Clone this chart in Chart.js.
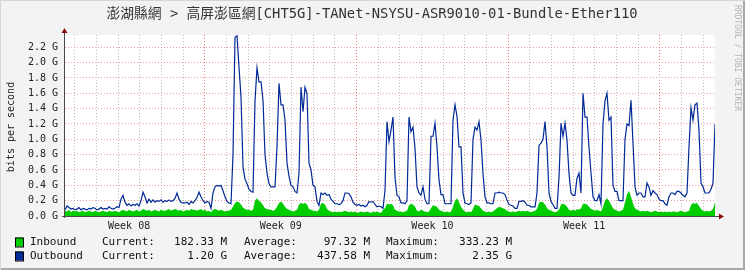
<!DOCTYPE html>
<html>
<head>
<meta charset="utf-8">
<script src="https://cdn.jsdelivr.net/npm/chart.js@4/dist/chart.umd.min.js"></script>
<style>
  html, body { margin: 0; padding: 0; background: #f3f3f3; }
  canvas { display: block; }
</style>
</head>
<body>
<canvas id="traffic" width="745" height="270" style="width:745px;height:270px"></canvas>
<script>
// Chart data (values in Gbit/s, one sample every STEP_H hours)
const titleText = '澎湖縣網 > 高屏澎區網[CHT5G]-TANet-NSYSU-ASR9010-01-Bundle-Ether110';
const axisTitle = 'bits per second';
const weekLabels = ['Week 08', 'Week 09', 'Week 10', 'Week 11'];
const SPAN_H = 720;
const STEP_H = 720 / 325;
const firstMidnightH = 11;
const firstWeekH = 155;
const yMax = 2.36;

const inbound = [
  0.07, 0.06, 0.08, 0.05, 0.07,  0.06, 0.07, 0.05, 0.06, 0.07,
  0.05, 0.06, 0.07, 0.06, 0.05,  0.07, 0.06, 0.05, 0.06, 0.07,
  0.06, 0.05, 0.07, 0.06, 0.06,  0.07, 0.06, 0.05, 0.07, 0.08,
  0.07, 0.06, 0.08, 0.07, 0.06,  0.07, 0.08, 0.06, 0.07, 0.09,
  0.08, 0.07, 0.08, 0.06, 0.07,  0.08, 0.07, 0.06, 0.08, 0.07,
  0.07, 0.08, 0.09, 0.07, 0.08,  0.09, 0.08, 0.07, 0.08, 0.06,
  0.07, 0.08, 0.07, 0.09, 0.08,  0.08, 0.07, 0.08, 0.09, 0.07,
  0.08, 0.06, 0.07, 0.05, 0.08,  0.09, 0.08, 0.07, 0.08, 0.07,
  0.06, 0.07, 0.07, 0.08, 0.12,  0.17, 0.19, 0.18, 0.15, 0.11,
  0.09, 0.08, 0.08, 0.07, 0.08,  0.20, 0.23, 0.20, 0.18, 0.14,
  0.10, 0.09, 0.08, 0.08, 0.07,  0.08, 0.12, 0.17, 0.19, 0.16,
  0.12, 0.09, 0.08, 0.07, 0.06,  0.07, 0.08, 0.15, 0.17, 0.16,
  0.17, 0.15, 0.09, 0.08, 0.07,  0.07, 0.06, 0.08, 0.16, 0.17,
  0.15, 0.09, 0.07, 0.06, 0.05,  0.06, 0.05, 0.06, 0.05, 0.06,
  0.07, 0.06, 0.05, 0.06, 0.05,  0.06, 0.04, 0.05, 0.06, 0.05,
  0.05, 0.06, 0.05, 0.04, 0.06,  0.05, 0.06, 0.05, 0.04, 0.08,
  0.10, 0.16, 0.15, 0.16, 0.14,  0.08, 0.07, 0.06, 0.06, 0.05,
  0.06, 0.07, 0.14, 0.16, 0.15,  0.12, 0.07, 0.06, 0.08, 0.07,
  0.06, 0.05, 0.06, 0.10, 0.14,  0.13, 0.12, 0.08, 0.07, 0.06,
  0.05, 0.06, 0.05, 0.06, 0.12,  0.20, 0.23, 0.18, 0.12, 0.08,
  0.06, 0.05, 0.06, 0.05, 0.09,  0.15, 0.14, 0.13, 0.10, 0.07,
  0.06, 0.05, 0.06, 0.05, 0.06,  0.08, 0.10, 0.12, 0.11, 0.10,
  0.09, 0.07, 0.06, 0.05, 0.06,  0.05, 0.06, 0.07, 0.06, 0.07,
  0.06, 0.07, 0.06, 0.05, 0.06,  0.07, 0.09, 0.17, 0.19, 0.18,
  0.15, 0.10, 0.08, 0.07, 0.06,  0.05, 0.06, 0.08, 0.15, 0.16,
  0.15, 0.12, 0.08, 0.07, 0.08,  0.07, 0.09, 0.08, 0.10, 0.16,
  0.16, 0.15, 0.12, 0.09, 0.08,  0.07, 0.08, 0.07, 0.06, 0.12,
  0.20, 0.23, 0.20, 0.15, 0.10,  0.08, 0.07, 0.06, 0.07, 0.08,
  0.18, 0.28, 0.33, 0.25, 0.16,  0.10, 0.08, 0.07, 0.06, 0.07,
  0.06, 0.07, 0.06, 0.05, 0.06,  0.07, 0.06, 0.05, 0.06, 0.05,
  0.06, 0.05, 0.06, 0.05, 0.06,  0.06, 0.05, 0.06, 0.07, 0.06,
  0.05, 0.06, 0.07, 0.14, 0.17,  0.16, 0.17, 0.13, 0.09, 0.07,
  0.06, 0.07, 0.06, 0.07, 0.09,  0.18
];

const outbound = [
  0.08, 0.13, 0.11, 0.09, 0.10,  0.08, 0.09, 0.11, 0.08, 0.10,
  0.09, 0.08, 0.10, 0.09, 0.11,  0.10, 0.08, 0.09, 0.11, 0.09,
  0.10, 0.09, 0.12, 0.10, 0.09,  0.10, 0.12, 0.11, 0.22, 0.27,
  0.18, 0.14, 0.16, 0.13, 0.15,  0.14, 0.16, 0.13, 0.20, 0.31,
  0.25, 0.17, 0.22, 0.18, 0.21,  0.18, 0.20, 0.19, 0.21, 0.18,
  0.20, 0.19, 0.21, 0.19, 0.20,  0.23, 0.30, 0.22, 0.18, 0.17,
  0.17, 0.18, 0.15, 0.19, 0.17,  0.20, 0.24, 0.31, 0.25, 0.20,
  0.17, 0.19, 0.18, 0.10, 0.30,  0.38, 0.40, 0.39, 0.40, 0.33,
  0.25, 0.19, 0.17, 0.16, 0.80,  2.33, 2.35, 1.94, 1.55, 0.64,
  0.48, 0.42, 0.35, 0.32, 0.31,  1.50, 1.93, 1.75, 1.75, 1.51,
  0.80, 0.56, 0.42, 0.38, 0.38,  0.38, 0.90, 1.73, 1.45, 1.45,
  1.25, 0.69, 0.52, 0.40, 0.38,  0.32, 0.30, 0.55, 1.68, 1.36,
  1.68, 1.60, 0.69, 0.60, 0.40,  0.38, 0.19, 0.14, 0.30, 0.28,
  0.30, 0.27, 0.28, 0.22, 0.19,  0.16, 0.16, 0.15, 0.16, 0.20,
  0.30, 0.30, 0.29, 0.25, 0.18,  0.15, 0.14, 0.15, 0.13, 0.14,
  0.12, 0.14, 0.19, 0.18, 0.19,  0.15, 0.12, 0.13, 0.12, 0.10,
  0.33, 1.23, 0.97, 1.12, 1.29,  0.50, 0.27, 0.25, 0.17, 0.17,
  0.16, 0.20, 1.29, 1.10, 1.16,  0.88, 0.38, 0.30, 0.27, 0.38,
  0.22, 0.16, 0.16, 1.04, 1.04,  1.21, 0.90, 0.47, 0.28, 0.28,
  0.16, 0.16, 0.16, 0.16, 1.25,  1.45, 1.30, 0.90, 0.90, 0.30,
  0.17, 0.16, 0.15, 0.17, 1.00,  1.16, 1.12, 1.23, 0.99, 0.55,
  0.25, 0.17, 0.17, 0.16, 0.16,  0.30, 0.30, 0.31, 0.30, 0.30,
  0.28, 0.21, 0.15, 0.14, 0.13,  0.10, 0.10, 0.19, 0.19, 0.20,
  0.18, 0.14, 0.14, 0.12, 0.12,  0.12, 0.30, 0.92, 0.95, 1.00,
  1.23, 0.90, 0.30, 0.19, 0.15,  0.10, 0.10, 0.50, 1.21, 1.04,
  1.21, 0.99, 0.55, 0.30, 0.27,  0.27, 0.49, 0.56, 0.30, 1.60,
  1.29, 1.29, 0.90, 0.56, 0.25,  0.20, 0.20, 0.28, 0.16, 1.20,
  1.50, 1.60, 1.25, 1.29, 0.40,  0.32, 0.32, 0.20, 0.20, 0.20,
  1.00, 1.20, 1.18, 1.51, 0.95,  0.38, 0.27, 0.30, 0.30, 0.25,
  0.25, 0.43, 0.38, 0.27, 0.33,  0.30, 0.28, 0.22, 0.20, 0.20,
  0.16, 0.14, 0.25, 0.30, 0.30,  0.28, 0.32, 0.32, 0.30, 0.27,
  0.25, 0.30, 0.90, 1.41, 1.25,  1.45, 1.47, 1.12, 0.43, 0.38,
  0.30, 0.30, 0.30, 0.35, 0.43,  1.20
];

const seriesNames = ['Inbound', 'Outbound'];
const seriesColors = ['#00cc00', '#002a97'];
const statLabels = ['Current:', 'Average:', 'Maximum:'];
const inboundStats = ['182.33 M', '97.32 M', '333.23 M'];
const outboundStats = ['1.20 G', '437.58 M', '2.35 G'];

// tick positions
const dayTicks = [];
for (let h = firstMidnightH; h < SPAN_H; h += 24) dayTicks.push(h);
const yTicks = [];
for (let i = 0; i <= 23; i++) yTicks.push(i / 10);

const mono = '"DejaVu Sans Mono", "Liberation Mono", monospace';

const toPoints = arr => arr.map((v, i) => ({ x: i * STEP_H, y: v }));

// backgrounds, axes, texts
const rrdDecor = {
  id: 'rrdDecor',
  beforeDraw(chart) {
    const { ctx, chartArea: a } = chart;
    ctx.save();
    ctx.fillStyle = '#f3f3f3';
    ctx.fillRect(0, 0, chart.width, chart.height);
    ctx.fillStyle = '#ffffff';
    ctx.fillRect(a.left, a.top, a.right - a.left, a.bottom - a.top);
    ctx.restore();
  },
  afterDatasetsDraw(chart) {
    const { ctx, chartArea: a } = chart;
    ctx.save();
    ctx.strokeStyle = '#4a4a4a';
    ctx.lineWidth = 1;
    ctx.beginPath();
    ctx.moveTo(a.left - 0.5, a.bottom + 2);
    ctx.lineTo(a.left - 0.5, a.top - 4);
    ctx.moveTo(a.left - 3, a.bottom + 0.5);
    ctx.lineTo(a.right + 5, a.bottom + 0.5);
    ctx.stroke();
    // arrows
    ctx.fillStyle = '#8a1010';
    ctx.beginPath();
    ctx.moveTo(a.left - 3.5, a.top - 2);
    ctx.lineTo(a.left + 2.5, a.top - 2);
    ctx.lineTo(a.left - 0.5, a.top - 7);
    ctx.closePath();
    ctx.fill();
    ctx.beginPath();
    ctx.moveTo(a.right + 4, a.bottom - 2.5);
    ctx.lineTo(a.right + 4, a.bottom + 3.5);
    ctx.lineTo(a.right + 9, a.bottom + 0.5);
    ctx.closePath();
    ctx.fill();
    ctx.restore();
  },
  afterDraw(chart) {
    const { ctx } = chart;
    const xs = chart.scales.x;
    ctx.save();
    // title
    ctx.fillStyle = '#333';
    ctx.font = '13.8px ' + mono + ', "Noto Sans CJK TC"';
    ctx.textAlign = 'center';
    ctx.textBaseline = 'middle';
    ctx.fillText(titleText, 372, 14);

    // week labels
    ctx.fillStyle = '#222';
    ctx.font = '10px ' + mono;
    weekLabels.forEach((w, k) => {
      const mid = firstWeekH - 84 + 168 * k;
      ctx.fillText(w, xs.getPixelForValue(mid), 226);
    });

    // y axis title
    ctx.save();
    ctx.translate(11, 127);
    ctx.rotate(-Math.PI / 2);
    ctx.fillText(axisTitle, 0, 0);
    ctx.restore();

    // watermark
    ctx.save();
    ctx.fillStyle = '#b4b4b4';
    ctx.font = '8px ' + mono;
    ctx.translate(737, 5);
    ctx.rotate(Math.PI / 2);
    ctx.textAlign = 'left';
    ctx.fillText('RRDTOOL / TOBI OETIKER', 0, 0);
    ctx.restore();

    // legend
    ctx.font = '11px ' + mono;
    const stats = [inboundStats, outboundStats];
    seriesNames.forEach((name, r) => {
      const y = 242 + r * 14;
      ctx.fillStyle = seriesColors[r];
      ctx.fillRect(15, y - 4.5, 8, 9);
      ctx.strokeStyle = '#000';
      ctx.lineWidth = 1;
      ctx.strokeRect(15.5, y - 4, 8, 9);
      ctx.fillStyle = '#111';
      ctx.textAlign = 'left';
      ctx.fillText(name, 30, y);
      const labelX = [102, 244, 386];
      const valueX = [227, 370, 512];
      statLabels.forEach((lab, j) => {
        ctx.textAlign = 'left';
        ctx.fillText(lab, labelX[j], y);
        ctx.textAlign = 'right';
        ctx.fillText(stats[r][j], valueX[j], y);
      });
    });

    // frame
    ctx.strokeStyle = '#a8a8a8';
    ctx.lineWidth = 2;
    ctx.beginPath();
    ctx.moveTo(0, chart.height - 1);
    ctx.lineTo(chart.width - 1, chart.height - 1);
    ctx.lineTo(chart.width - 1, 0);
    ctx.stroke();
    ctx.strokeStyle = '#d6d6d6';
    ctx.lineWidth = 1;
    ctx.beginPath();
    ctx.moveTo(0.5, chart.height);
    ctx.lineTo(0.5, 0.5);
    ctx.lineTo(chart.width, 0.5);
    ctx.stroke();
    ctx.restore();
  }
};

new Chart(document.getElementById('traffic'), {
  type: 'line',
  data: {
    datasets: [
      {
        label: seriesNames[0],
        data: toPoints(inbound),
        borderWidth: 0,
        borderColor: seriesColors[0],
        backgroundColor: seriesColors[0],
        fill: 'origin',
        pointRadius: 0,
        tension: 0,
        order: 2
      },
      {
        label: seriesNames[1],
        data: toPoints(outbound),
        borderWidth: 1.2,
        borderColor: seriesColors[1],
        fill: false,
        pointRadius: 0,
        tension: 0,
        order: 1
      }
    ]
  },
  options: {
    responsive: false,
    devicePixelRatio: 1,
    animation: false,
    layout: { autoPadding: false, padding: { left: 0, top: 35, right: 30, bottom: 54 } },
    plugins: { legend: { display: false }, tooltip: { enabled: false } },
    scales: {
      x: {
        type: 'linear',
        min: 0,
        max: SPAN_H,
        afterBuildTicks: s => { s.ticks = dayTicks.map(v => ({ value: v })); },
        afterFit: s => { s.height = 0; },
        ticks: { display: false },
        border: { display: false, dash: [1, 2] },
        grid: {
          drawTicks: false,
          lineWidth: 1,
          color: c => (c.tick && (c.tick.value - firstWeekH) % 168 === 0)
            ? 'rgba(230, 80, 80, 0.75)' : 'rgba(170, 170, 170, 0.8)'
        }
      },
      y: {
        min: 0,
        max: yMax,
        afterBuildTicks: s => { s.ticks = yTicks.map(v => ({ value: v })); },
        afterFit: s => { s.width = 65; },
        border: { display: false, dash: [1, 2] },
        grid: { drawTicks: false, lineWidth: 1, color: 'rgba(225, 120, 120, 0.7)' },
        ticks: {
          padding: 7,
          color: '#222',
          font: { family: mono, size: 10 },
          callback: (v, i) => (i % 2 === 0 ? v.toFixed(1) + ' G' : '')
        }
      }
    }
  },
  plugins: [rrdDecor]
});
</script>
</body>
</html>
